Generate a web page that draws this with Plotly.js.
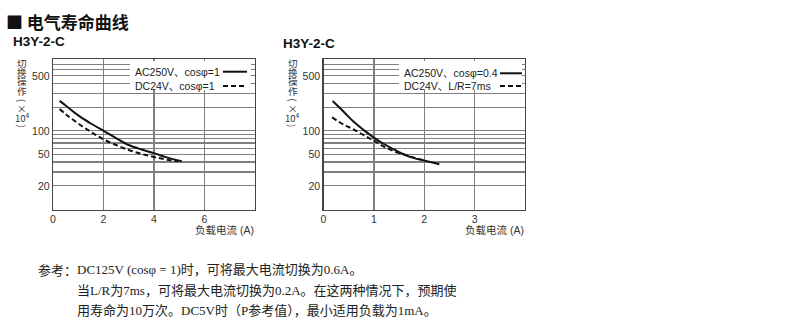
<!DOCTYPE html>
<html>
<head>
<meta charset="utf-8">
<script src="https://cdn.plot.ly/plotly-3.0.1.min.js"></script>
<style>
  html, body { margin: 0; padding: 0; background: #fff; }
  #chart { width: 790px; height: 329px; }
</style>
</head>
<body>
<div id="chart"></div>
<script>
// ---- Data ----
// Left chart: H3Y-2-C, load current (A) vs switching operations (x10^4)
const acX1 = [0.26, 0.5, 1, 1.5, 2, 2.5, 3, 3.5, 4, 4.5, 5.1];
const acY1 = [240, 210, 157, 124, 100, 81, 66, 58, 52, 46, 41];
const dcX1 = [0.26, 0.5, 1, 1.5, 2, 2.5, 3, 3.5, 4, 4.5, 4.95];
const dcY1 = [189, 163, 124, 97, 78, 66, 57, 51, 46.5, 43, 41];
// Right chart
const acX2 = [0.18, 0.4, 0.6, 0.8, 1, 1.2, 1.4, 1.6, 1.8, 2, 2.3];
const acY2 = [239, 175, 130, 102, 82, 68, 58, 50, 45, 42, 37.5];
const dcX2 = [0.17, 0.4, 0.6, 0.8, 1, 1.2, 1.4, 1.6, 1.8, 2.0];
const dcY2 = [148, 120, 104, 88, 75, 63, 55, 50, 45.5, 42];

const xTicks1 = [0, 2, 4, 6];
const xTicks2 = [0, 1, 2, 3];
const yTickVals = [20, 50, 100, 500];
const yMinorVals = [30, 40, 60, 70, 80, 90, 200, 300, 400, 600, 700, 800];

const heading = "■ 电气寿命曲线";
const modelName = "H3Y-2-C";
const yTitleChars = ["切", "换", "操", "作", "(", "×", "10<sup>4</sup>", ")"];
const yTitleRot = [0, 0, 0, 0, 90, 0, 0, 90];
const xTitle = "负载电流 (A)";
const legend1 = ["AC250V、cosφ=1", "DC24V、cosφ=1"];
const legend2 = ["AC250V、cosφ=0.4", "DC24V、L/R=7ms"];
const noteHead = "参考：";
const noteLines = [
  "DC125V (cosφ = 1)时，可将最大电流切换为0.6A。",
  "当L/R为7ms，可将最大电流切换为0.2A。在这两种情况下，预期使",
  "用寿命为10万次。DC5V时（P参考值），最小适用负载为1mA。"
];

// ---- Layout helpers ----
const W = 790, H = 329;
const px = x => x / W;
const py = y => 1 - y / H;
const SANS = "Liberation Sans, Arial, Noto Sans CJK SC, sans-serif";
const CJK = "Noto Sans CJK SC, sans-serif";
const SERIF = "Liberation Serif, Noto Sans CJK SC, serif";
const GRID = "#808080";

const solid = {color: "#111", width: 2};
const dashed = {color: "#111", width: 2, dash: "5px,3px"};

const traces = [
  {x: acX1, y: acY1, xaxis: "x", yaxis: "y", mode: "lines", line: Object.assign({shape: "spline"}, solid), hoverinfo: "skip"},
  {x: dcX1, y: dcY1, xaxis: "x", yaxis: "y", mode: "lines", line: Object.assign({shape: "spline"}, dashed), hoverinfo: "skip"},
  {x: dcX2, y: dcY2, xaxis: "x2", yaxis: "y2", mode: "lines", line: Object.assign({shape: "spline"}, dashed), hoverinfo: "skip"},
  {x: acX2, y: acY2, xaxis: "x2", yaxis: "y2", mode: "lines", line: Object.assign({shape: "spline"}, solid), hoverinfo: "skip"}
];

function xAxis(domain, range, ticks) {
  return {
    domain: domain, range: range, tickmode: "array", tickvals: ticks,
    showgrid: true, gridcolor: GRID, gridwidth: 1.3,
    zeroline: false, showline: true, mirror: true, linecolor: "#444", linewidth: 1.3,
    ticks: "", tickfont: {family: SANS, size: 10.5, color: "#333"}, fixedrange: true
  };
}
function yAxis(anchor) {
  return {
    type: "log", domain: [py(209.5), py(59)], range: [1, 2.913], anchor: anchor,
    tickmode: "array", tickvals: yTickVals, ticktext: yTickVals.map(String),
    showgrid: true, gridcolor: GRID, gridwidth: 1.3,
    minor: {tickmode: "array", tickvals: yMinorVals, showgrid: true, gridcolor: GRID, gridwidth: 1.3, ticks: ""},
    zeroline: false, showline: true, mirror: true, linecolor: "#444", linewidth: 1.3,
    ticks: "", tickfont: {family: SANS, size: 10.5, color: "#333"}, fixedrange: true
  };
}

const annotations = [];
function ann(text, x, y, opts) {
  annotations.push(Object.assign({
    text: text, x: px(x), y: py(y), xref: "paper", yref: "paper",
    xanchor: "left", yanchor: "middle", showarrow: false,
    font: {family: SANS, size: 10.5, color: "#222"}
  }, opts || {}));
}

ann("<b>" + heading + "</b>", 4, 22, {font: {family: CJK, size: 17, color: "#111"}});
ann("<b>" + modelName + "</b>", 11, 42, {font: {family: SANS, size: 13.5, color: "#111"}});
ann("<b>" + modelName + "</b>", 281, 43, {font: {family: SANS, size: 13.5, color: "#111"}});

const yTitleYs = [63, 72, 81.5, 91, 100, 108, 117, 125.5];
[22, 292.5].forEach(cx => {
  yTitleChars.forEach((c, i) => {
    ann(c, cx, yTitleYs[i], {
      xanchor: "center", textangle: yTitleRot[i], borderpad: 0,
      font: {family: CJK, size: 9.5, color: "#333"}
    });
  });
});

ann(xTitle, 256, 229.5, {xanchor: "right", font: {family: SANS, size: 10.5, color: "#333"}});
ann(xTitle, 526, 229.5, {xanchor: "right", font: {family: SANS, size: 10.5, color: "#333"}});

ann(legend1[0], 133, 72, {font: {family: SANS, size: 10.5, color: "#222"}});
ann(legend1[1], 133, 86, {font: {family: SANS, size: 10.5, color: "#222"}});
ann(legend2[0], 402, 73.3, {font: {family: SANS, size: 10.5, color: "#222"}});
ann(legend2[1], 402, 86, {font: {family: SANS, size: 10.5, color: "#222"}});

ann(noteHead, 36, 269, {font: {family: CJK, size: 13, color: "#222"}});
ann(noteLines[0], 75, 269, {font: {family: SERIF, size: 13, color: "#222"}});
ann(noteLines[1], 75, 290.5, {font: {family: SERIF, size: 13, color: "#222"}});
ann(noteLines[2], 75, 310.5, {font: {family: SERIF, size: 13, color: "#222"}});

const shapes = [
  {type: "rect", xref: "paper", yref: "paper", x0: px(130), x1: px(251), y0: py(90), y1: py(61), fillcolor: "#fff", line: {width: 0}, layer: "above"},
  {type: "rect", xref: "paper", yref: "paper", x0: px(399), x1: px(522), y0: py(90), y1: py(61), fillcolor: "#fff", line: {width: 0}, layer: "above"},
  {type: "line", xref: "paper", yref: "paper", x0: px(223), x1: px(247), y0: py(71.7), y1: py(71.7), line: {color: "#111", width: 2}},
  {type: "line", xref: "paper", yref: "paper", x0: px(223), x1: px(247), y0: py(86), y1: py(86), line: {color: "#111", width: 2, dash: "5px,3px"}},
  {type: "line", xref: "paper", yref: "paper", x0: px(500), x1: px(522), y0: py(73.3), y1: py(73.3), line: {color: "#111", width: 2}},
  {type: "line", xref: "paper", yref: "paper", x0: px(500), x1: px(522), y0: py(86), y1: py(86), line: {color: "#111", width: 2, dash: "5px,3px"}}
];

const layout = {
  width: W, height: H,
  margin: {l: 0, r: 0, t: 0, b: 0, pad: 0},
  paper_bgcolor: "#fff", plot_bgcolor: "#fff",
  showlegend: false,
  xaxis: Object.assign(xAxis([px(53), px(255)], [0, 8], xTicks1), {anchor: "y"}),
  yaxis: yAxis("x"),
  xaxis2: Object.assign(xAxis([px(323.5), px(525)], [0, 4], xTicks2), {anchor: "y2"}),
  yaxis2: yAxis("x2"),
  annotations: annotations,
  shapes: shapes
};

Plotly.newPlot("chart", traces, layout, {staticPlot: true, displayModeBar: false});
</script>
</body>
</html>
